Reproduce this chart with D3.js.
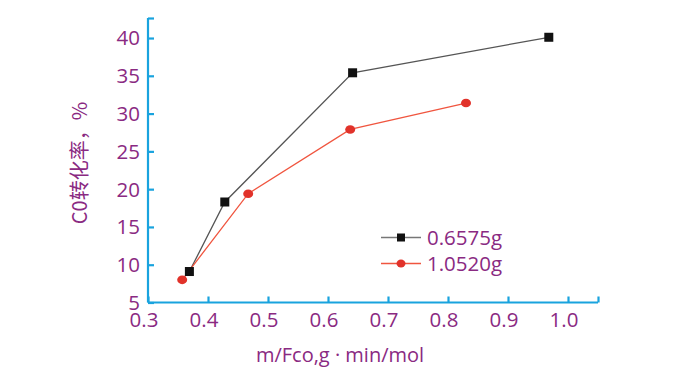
<!DOCTYPE html>
<html>
<head>
<meta charset="utf-8">
<script src="https://cdn.jsdelivr.net/npm/d3@7"></script>
<style>
  html, body { margin: 0; padding: 0; background: #fff; }
  svg { display: block; }
</style>
</head>
<body>
<svg id="chart" width="687" height="369"></svg>
<script>
const seriesNames = ["0.6575g", "1.0520g"];
const xBlack = [0.369, 0.428, 0.641, 0.968];
const yBlack = [9.1, 18.3, 35.4, 40.1];
const xRed = [0.357, 0.467, 0.637, 0.830];
const yRed = [8.0, 19.4, 27.9, 31.4];
const xTicks = [0.3, 0.4, 0.5, 0.6, 0.7, 0.8, 0.9, 1.0];
const xTickLabels = ["0.3", "0.4", "0.5", "0.6", "0.7", "0.8", "0.9", "1.0"];
const yTicks = [5, 10, 15, 20, 25, 30, 35, 40];
const xTitle = "m/Fco,g · min/mol";
const yTitle = "C0转化率，%";

const purple = "#8a2a82";
const axisBlue = "#19a3de";
const font = "'Open Sans', 'Noto Sans', sans-serif";

const svg = d3.select("#chart");
const x = d3.scaleLinear().domain([0.3, 1.05]).range([148, 598]);
const y = d3.scaleLinear().domain([5, 42.65]).range([302.5, 18]);

// Axes (ticks inward)
const xAxis = d3.axisBottom(x).tickValues(xTicks.concat([1.05])).tickSize(-6).tickFormat("");
const yAxis = d3.axisLeft(y).tickValues(yTicks.concat([42.65])).tickSize(-6).tickFormat("");

const gx = svg.append("g").attr("transform", `translate(0,${y(5)})`).call(xAxis);
const gy = svg.append("g").attr("transform", `translate(${x(0.3)},0)`).call(yAxis);
[gx, gy].forEach(g => {
  g.select(".domain").attr("stroke", axisBlue).attr("stroke-width", 2.2);
  g.selectAll(".tick line").attr("stroke", axisBlue).attr("stroke-width", 2.2);
});
gx.select(".domain").attr("d", `M${x(0.3)},0H${x(1.05)}`);
gy.select(".domain").attr("d", `M0,${y(5)}V${y(42.65)}`);

// tick labels
svg.append("g").selectAll("text").data(xTicks).join("text")
  .attr("x", d => x(d) - 4).attr("y", 327)
  .attr("text-anchor", "middle")
  .attr("font-family", font).attr("font-size", 20.5).attr("fill", purple)
  .text((d, i) => xTickLabels[i]);

svg.append("g").selectAll("text").data(yTicks).join("text")
  .attr("x", 140).attr("y", d => y(d))
  .attr("dy", "0.36em")
  .attr("text-anchor", "end")
  .attr("font-family", font).attr("font-size", 20.5).attr("fill", purple)
  .text(d => d);

// titles
svg.append("text")
  .attr("x", 340).attr("y", 362)
  .attr("text-anchor", "middle")
  .attr("font-family", font).attr("font-size", 20).attr("fill", purple)
  .text(xTitle);

svg.append("text")
  .attr("transform", `translate(87,163) rotate(-90)`)
  .attr("text-anchor", "middle")
  .attr("font-family", "'Noto Sans CJK SC', sans-serif").attr("font-size", 20).attr("fill", purple)
  .text(yTitle);

// lines
const line = d3.line().x(d => x(d[0])).y(d => y(d[1]));
const blackPts = xBlack.map((v, i) => [v, yBlack[i]]);
const redPts = xRed.map((v, i) => [v, yRed[i]]);

svg.append("path").datum(blackPts).attr("d", line)
  .attr("fill", "none").attr("stroke", "#555").attr("stroke-width", 1.3);
svg.append("path").datum(redPts).attr("d", line)
  .attr("fill", "none").attr("stroke", "#f0553f").attr("stroke-width", 1.3);

svg.append("g").selectAll("rect").data(blackPts).join("rect")
  .attr("x", d => x(d[0]) - 4.5).attr("y", d => y(d[1]) - 4.5)
  .attr("width", 9).attr("height", 9).attr("fill", "#111");
svg.append("g").selectAll("ellipse").data(redPts).join("ellipse")
  .attr("cx", d => x(d[0])).attr("cy", d => y(d[1]))
  .attr("rx", 5).attr("ry", 4.3).attr("fill", "#e1322a");

// legend
const lg = svg.append("g");
const legendY = [237.5, 263.5];
lg.append("line").attr("x1", 381).attr("x2", 421).attr("y1", legendY[0]).attr("y2", legendY[0])
  .attr("stroke", "#777").attr("stroke-width", 1.3);
lg.append("rect").attr("x", 397).attr("y", legendY[0] - 4).attr("width", 8).attr("height", 8).attr("fill", "#111");
lg.append("line").attr("x1", 381).attr("x2", 421).attr("y1", legendY[1]).attr("y2", legendY[1])
  .attr("stroke", "#f0553f").attr("stroke-width", 1.3);
lg.append("ellipse").attr("cx", 401).attr("cy", legendY[1]).attr("rx", 4.5).attr("ry", 4).attr("fill", "#e1322a");
lg.selectAll("text").data(seriesNames).join("text")
  .attr("x", 427).attr("y", (d, i) => legendY[i]).attr("dy", "0.36em")
  .attr("font-family", font).attr("font-size", 20.5).attr("fill", purple)
  .text(d => d);
</script>
</body>
</html>
